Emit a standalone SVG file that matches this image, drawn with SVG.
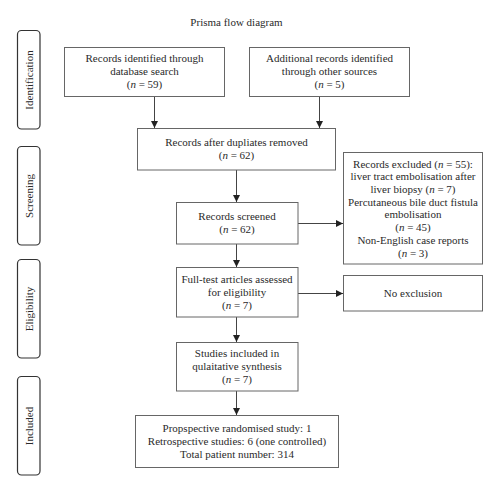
<svg xmlns="http://www.w3.org/2000/svg" width="500" height="493" viewBox="0 0 500 493">
<defs>
<marker id="ah" markerWidth="8" markerHeight="8" refX="7" refY="4" orient="auto" markerUnits="userSpaceOnUse">
<path d="M0,0.5 L7,4 L0,7.5 Z" fill="#222"/>
</marker>
<style>
text{font-family:"Liberation Serif","Times New Roman",serif;font-size:11px;fill:#2a2a2a;text-anchor:middle}
.box{fill:#fff;stroke:#666;stroke-width:1}
.side{fill:#fff;stroke:#333;stroke-width:1.2}
.c{stroke:#444;stroke-width:1;fill:none;marker-end:url(#ah)}
</style>
</defs>
<rect width="500" height="493" fill="#fff"/>
<text x="236.5" y="25.5">Prisma flow diagram</text>

<g id="side-identification"><rect class="side" x="17.5" y="30.5" width="22.5" height="98.5" rx="4"/><text transform="translate(32.5,80) rotate(-90)">Identification</text></g>
<g id="side-screening"><rect class="side" x="17.5" y="146.5" width="22.5" height="98.5" rx="4"/><text transform="translate(32.5,196) rotate(-90)">Screening</text></g>
<g id="side-eligibility"><rect class="side" x="17.5" y="259.5" width="22.5" height="98.5" rx="4"/><text transform="translate(32.5,309) rotate(-90)">Eligibility</text></g>
<g id="side-included"><rect class="side" x="17.5" y="376.5" width="22.5" height="98.5" rx="4"/><text transform="translate(32.5,426) rotate(-90)">Included</text></g>

<g id="connectors">
<line class="c" x1="154.5" y1="96" x2="154.5" y2="128"/>
<line class="c" x1="319.5" y1="96" x2="319.5" y2="128"/>
<line class="c" x1="236.5" y1="170" x2="236.5" y2="202"/>
<line class="c" x1="298" y1="223.5" x2="343" y2="223.5"/>
<line class="c" x1="236.5" y1="244" x2="236.5" y2="267"/>
<line class="c" x1="298" y1="293.5" x2="343" y2="293.5"/>
<line class="c" x1="236.5" y1="317" x2="236.5" y2="342"/>
<line class="c" x1="236.5" y1="391" x2="236.5" y2="415"/>
</g>

<g id="n1"><rect class="box" x="64.5" y="47.5" width="160" height="49"/>
<text x="144.5" y="61.5">Records identified through</text>
<text x="144.5" y="74.5">database search</text>
<text x="144.5" y="87.5">(<tspan font-style="italic">n</tspan> = 59)</text></g>

<g id="n2"><rect class="box" x="249.5" y="47.5" width="160" height="49"/>
<text x="329.5" y="61.5">Additional records identified</text>
<text x="329.5" y="74.5">through other sources</text>
<text x="329.5" y="87.5">(<tspan font-style="italic">n</tspan> = 5)</text></g>

<g id="n3"><rect class="box" x="137.5" y="128.5" width="198" height="41.5"/>
<text x="236.5" y="146">Records after dupliates removed</text>
<text x="236.5" y="159">(<tspan font-style="italic">n</tspan> = 62)</text></g>

<g id="n4"><rect class="box" x="176.5" y="202.5" width="121.5" height="41.5"/>
<text x="237" y="220">Records screened</text>
<text x="237" y="233">(<tspan font-style="italic">n</tspan> = 62)</text></g>

<g id="n5"><rect class="box" x="343.5" y="152.5" width="139" height="111.5"/>
<text x="413" y="167.5">Records excluded (<tspan font-style="italic">n</tspan> = 55):</text>
<text x="413" y="180">liver tract embolisation after</text>
<text x="413" y="192.5">liver biopsy (<tspan font-style="italic">n</tspan> = 7)</text>
<text x="413" y="205.5">Percutaneous bile duct fistula</text>
<text x="413" y="218">embolisation</text>
<text x="413" y="231">(<tspan font-style="italic">n</tspan> = 45)</text>
<text x="413" y="244">Non-English case reports</text>
<text x="413" y="256.5">(<tspan font-style="italic">n</tspan> = 3)</text></g>

<g id="n6"><rect class="box" x="176.5" y="267.5" width="121.5" height="49.5"/>
<text x="237" y="282.5">Full-test articles assessed</text>
<text x="237" y="295.5">for eligibility</text>
<text x="237" y="308.5">(<tspan font-style="italic">n</tspan> = 7)</text></g>

<g id="n7"><rect class="box" x="343.5" y="275.5" width="139" height="35.5"/>
<text x="413" y="296.5">No exclusion</text></g>

<g id="n8"><rect class="box" x="176.5" y="342.5" width="121.5" height="48.5"/>
<text x="237" y="357">Studies included in</text>
<text x="237" y="370">qulaitative synthesis</text>
<text x="237" y="382.5">(<tspan font-style="italic">n</tspan> = 7)</text></g>

<g id="n9"><rect class="box" x="135.5" y="415.5" width="203" height="52"/>
<text x="237" y="431.5">Propspective randomised study: 1</text>
<text x="237" y="444.5">Retrospective studies: 6 (one controlled)</text>
<text x="237" y="457.5">Total patient number: 314</text></g>
</svg>
